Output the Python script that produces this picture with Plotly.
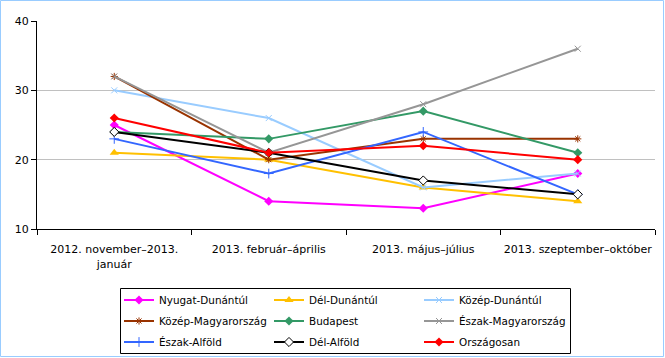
import plotly.graph_objects as go

categories = ["2012. november–2013.<br>január", "2013. február–április",
              "2013. május–július", "2013. szeptember–október"]

nyugat_dunantul = [25, 14, 13, 18]
del_dunantul = [21, 20, 16, 14]
kozep_dunantul = [30, 26, 16, 18]
kozep_magyarorszag = [32, 20, 23, 23]
budapest = [24, 23, 27, 21]
eszak_magyarorszag = [32, 21, 28, 36]
eszak_alfold = [23, 18, 24, 15]
del_alfold = [24, 21, 17, 15]
orszagosan = [26, 21, 22, 20]

series = [
    ("Nyugat-Dunántúl", nyugat_dunantul, "#FF00FF", dict(symbol="diamond", size=7)),
    ("Dél-Dunántúl", del_dunantul, "#FFC000", dict(symbol="triangle-up", size=8)),
    ("Közép-Dunántúl", kozep_dunantul, "#99CCFF", dict(symbol="x-thin-open", size=6, line=dict(width=1, color="#99CCFF"))),
    ("Közép-Magyarország", kozep_magyarorszag, "#993300", dict(symbol="asterisk-open", size=6, line=dict(width=1, color="#993300"))),
    ("Budapest", budapest, "#339966", dict(symbol="diamond", size=7)),
    ("Észak-Magyarország", eszak_magyarorszag, "#969696", dict(symbol="x-thin-open", size=6, line=dict(width=1, color="#969696"))),
    ("Észak-Alföld", eszak_alfold, "#3366FF", dict(symbol="cross-thin-open", size=7, line=dict(width=1, color="#3366FF"))),
    ("Dél-Alföld", del_alfold, "#000000", dict(symbol="diamond", size=7, color="white", line=dict(width=1, color="black"))),
    ("Országosan", orszagosan, "#FF0000", dict(symbol="diamond", size=7)),
]

legend_names = ["legend", "legend2", "legend3"]

fig = go.Figure()
for i, (name, vals, color, mk) in enumerate(series):
    m = dict(color=color)
    m.update(mk)
    fig.add_trace(go.Scatter(x=categories, y=vals, name=name, mode="lines+markers",
                             line=dict(color=color, width=2), marker=m,
                             legend=legend_names[i // 3]))

W, H = 665, 358
ml, mr, mt, mb = 37, 10, 21, 129
pw, ph = W - ml - mr, H - mt - mb

row_y = [300, 321, 342]
leg_x = 119

def leg(ypx):
    return dict(orientation="h", xref="container", yref="container",
                x=leg_x / W, y=1 - ypx / H, xanchor="left", yanchor="middle",
                entrywidth=105, entrywidthmode="pixels", itemwidth=30,
                borderwidth=0, bgcolor="rgba(0,0,0,0)",
                font=dict(family="DejaVu Sans", size=10.4, color="black"))

fig.update_layout(
    width=W, height=H,
    margin=dict(l=ml, r=mr, t=mt, b=mb, autoexpand=False),
    paper_bgcolor="white", plot_bgcolor="white",
    font=dict(family="DejaVu Sans", size=10, color="black"),
    showlegend=True,
    legend=leg(row_y[0]),
    legend2=leg(row_y[1]),
    legend3=leg(row_y[2]),
    xaxis=dict(type="category", tickson="boundaries", ticks="outside", ticklen=5,
               tickcolor="black", showline=True, linecolor="black", linewidth=1,
               showgrid=False, range=[-0.5, 3.5], tickfont=dict(size=11),
               tickangle=0, automargin=False, ticklabelstandoff=10),
    yaxis=dict(range=[10, 40], dtick=10, ticks="outside", ticklen=5, tickcolor="black",
               showline=True, linecolor="black", linewidth=1, automargin=False,
               showgrid=True, gridcolor="#C0C0C0", gridwidth=1, zeroline=False,
               tickfont=dict(size=11)),
    shapes=[
        dict(type="rect", xref="paper", yref="paper",
             x0=-(ml - 0.5) / pw, x1=1 + (mr - 1.5) / pw,
             y0=-(mb - 1.5) / ph, y1=1 + (mt - 0.5) / ph,
             line=dict(color="#99CCFF", width=1)),
        dict(type="rect", xref="paper", yref="paper",
             x0=(120.5 - ml) / pw, x1=(570.5 - ml) / pw,
             y0=(H - mb - 353.5) / ph, y1=(H - mb - 288.5) / ph,
             line=dict(color="black", width=1)),
    ],
)

fig.write_html("out.html", config={"displayModeBar": False},
               post_script="document.body.style.margin='0';document.body.style.overflow='hidden';")
